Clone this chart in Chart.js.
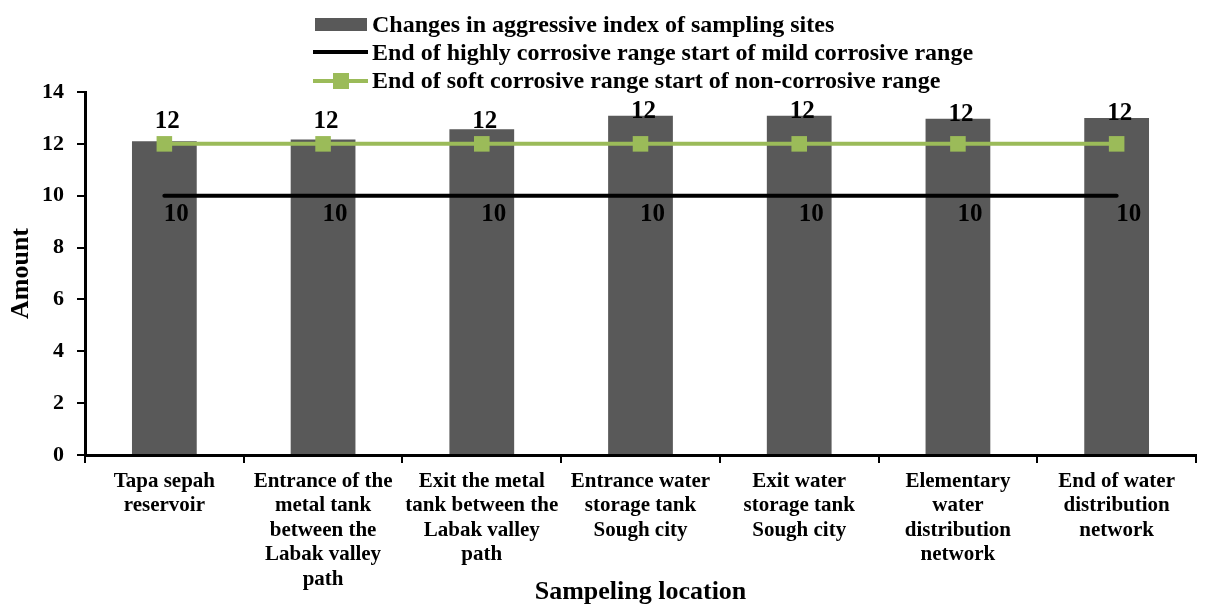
<!DOCTYPE html>
<html lang="en">
<head>
<meta charset="UTF-8">
<title>Aggressive index of sampling sites</title>
<script src="https://cdn.jsdelivr.net/npm/chart.js"></script>
<style>
    body {
        margin: 0;
        padding: 0;
        background: #ffffff;
    }
    .wrap {
        position: relative;
        width: 1207px;
        height: 605px;
    }
    #legend {
        position: absolute;
        left: 0;
        top: 0;
        font-family: 'Liberation Serif', 'Times New Roman', serif;
        font-weight: bold;
        font-size: 24px;
        color: #000;
    }
    .row {
        position: absolute;
        left: 313px;
        height: 28px;
        line-height: 28px;
        white-space: nowrap;
    }
    .row .txt {
        position: absolute;
        left: 59px;
        top: 0;
    }
    .mark {
        position: absolute;
    }
</style>
</head>
<body>
<div class="wrap">
    <canvas id="chart" width="1207" height="605"></canvas>
    <div id="legend"></div>
</div>

<script>
    // categories (x axis), multi-line as in the original
    const categories = [
        ['Tapa sepah', 'reservoir'],
        ['Entrance of the', 'metal tank', 'between the', 'Labak valley', 'path'],
        ['Exit the metal', 'tank between the', 'Labak valley', 'path'],
        ['Entrance water', 'storage tank', 'Sough city'],
        ['Exit water', 'storage tank', 'Sough city'],
        ['Elementary', 'water', 'distribution', 'network'],
        ['End of water', 'distribution', 'network']
    ];

    const seriesNames = [
        'Changes in aggressive index of sampling sites',
        'End of highly corrosive range start of mild corrosive range',
        'End of soft corrosive range start of non-corrosive range'
    ];

    // values
    const aggressiveIndex = [12.1, 12.17, 12.56, 13.08, 13.08, 12.97, 13.0];
    const highlyCorrosiveEnd = [10, 10, 10, 10, 10, 10, 10];
    const softCorrosiveEnd = [12, 12, 12, 12, 12, 12, 12];

    // y axis ticks
    const yMin = 0;
    const yMax = 14;
    const yStep = 2;

    const FONT = 'Liberation Serif';
    const BAR_COLOR = '#595959';
    const GREEN = '#9BBB59';

    // legend (html, left aligned rows like the original)
    const legend = document.getElementById('legend');
    const rowTops = [10, 37.5, 65.5];
    seriesNames.forEach((name, i) => {
        const row = document.createElement('div');
        row.className = 'row';
        row.style.top = rowTops[i] + 'px';
        if (i === 0) {
            row.innerHTML = '<span class="mark" style="left:2px;top:8px;width:52px;height:13px;background:' + BAR_COLOR + '"></span>';
        } else if (i === 1) {
            row.innerHTML = '<span class="mark" style="left:0;top:12px;width:55px;height:4px;background:#000"></span>';
        } else {
            row.innerHTML = '<span class="mark" style="left:0;top:13px;width:55px;height:4px;background:' + GREEN + '"></span>' +
                '<span class="mark" style="left:20px;top:7px;width:16px;height:16px;background:' + GREEN + '"></span>';
        }
        const t = document.createElement('span');
        t.className = 'txt';
        t.textContent = name;
        row.appendChild(t);
        legend.appendChild(row);
    });

    // value labels: "12" above the green points (pushed above bars), "10" under the black line
    const valueLabels = {
        id: 'valueLabels',
        afterDatasetsDraw(chart) {
            const ctx = chart.ctx;
            const bars = chart.getDatasetMeta(0).data;
            const black = chart.getDatasetMeta(1).data;
            const green = chart.getDatasetMeta(2).data;
            ctx.save();
            ctx.font = 'bold 25px "' + FONT + '"';
            ctx.fillStyle = '#000';
            ctx.textAlign = 'center';
            ctx.textBaseline = 'middle';
            green.forEach((pt, i) => {
                const y = Math.min(pt.y - 22, bars[i].y - 4);
                ctx.fillText(String(softCorrosiveEnd[i]), pt.x + 3, y);
            });
            black.forEach((pt, i) => {
                ctx.fillText(String(highlyCorrosiveEnd[i]), pt.x + 12, pt.y + 19);
            });
            ctx.restore();
        }
    };

    const tickFont = { family: FONT, weight: 'bold', size: 21, lineHeight: 1.167 };
    const titleFont = { family: FONT, weight: 'bold', size: 26, lineHeight: 1 };

    const ctx = document.getElementById('chart').getContext('2d');
    const myChart = new Chart(ctx, {
        data: {
            labels: categories,
            datasets: [
                {
                    type: 'bar',
                    label: seriesNames[0],
                    data: aggressiveIndex,
                    backgroundColor: BAR_COLOR,
                    barPercentage: 0.408,
                    categoryPercentage: 1.0,
                    order: 3
                },
                {
                    type: 'line',
                    label: seriesNames[1],
                    data: highlyCorrosiveEnd,
                    borderColor: '#000',
                    borderWidth: 4,
                    borderCapStyle: 'round',
                    pointRadius: 0,
                    order: 2
                },
                {
                    type: 'line',
                    label: seriesNames[2],
                    data: softCorrosiveEnd,
                    borderColor: GREEN,
                    borderWidth: 4,
                    pointStyle: 'rect',
                    pointRadius: 11,
                    pointBackgroundColor: GREEN,
                    pointBorderWidth: 0,
                    order: 1
                }
            ]
        },
        options: {
            responsive: false,
            animation: false,
            layout: { padding: { top: 92, right: 5, left: 0, bottom: 0 } },
            plugins: {
                legend: { display: false },
                tooltip: { enabled: false }
            },
            scales: {
                x: {
                    grid: { offset: true, drawOnChartArea: false, drawTicks: true, tickLength: 8, color: '#000', lineWidth: 2 },
                    border: { display: true, color: '#000', width: 3 },
                    ticks: { color: '#000', font: tickFont, padding: 6, maxRotation: 0, autoSkip: false },
                    title: { display: true, text: 'Sampeling location', color: '#000', font: titleFont, padding: { top: 0, bottom: 0 } },
                    afterFit(s) { s.height = 150; }
                },
                y: {
                    min: yMin,
                    max: yMax,
                    grid: { drawOnChartArea: false, drawTicks: true, tickLength: 8, color: '#000', lineWidth: 2 },
                    border: { display: true, color: '#000', width: 3 },
                    ticks: { stepSize: yStep, color: '#000', font: { family: FONT, weight: 'bold', size: 22 }, padding: 13 },
                    title: { display: true, text: 'Amount', color: '#000', font: titleFont, padding: { top: 8, bottom: 0 } },
                    afterFit(s) { s.width = 85; }
                }
            }
        },
        plugins: [valueLabels]
    });
</script>
</body>
</html>
